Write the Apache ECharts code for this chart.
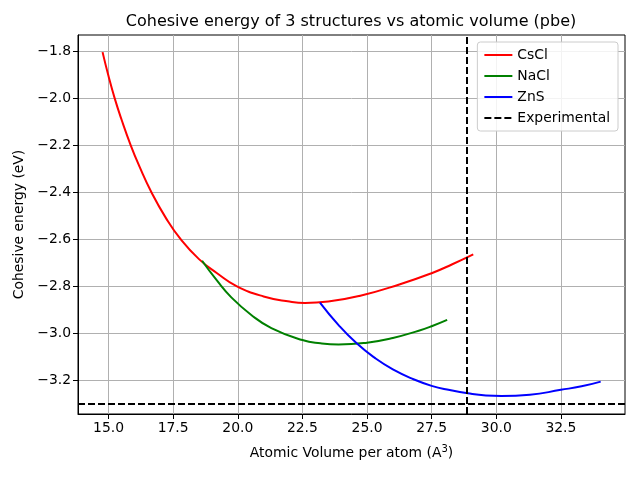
<!DOCTYPE html>
<html>
<head>
<meta charset="utf-8">
<script src="https://cdn.jsdelivr.net/npm/echarts@6/dist/echarts.min.js"></script>
<style>
  html, body { margin: 0; padding: 0; background: #fff; }
  #chart { width: 640px; height: 480px; }
</style>
</head>
<body>
<div id="chart"></div>
<script>
// values
const csclVolume = [14.77, 15.0, 15.24, 15.5, 15.86, 16.2, 16.66, 17.2, 17.79, 18.5, 19.2, 19.95, 21.0, 22.0, 22.6, 23.5, 24.74, 26.25, 27.5, 28.3, 29.11];
const csclEnergy = [-1.803, -1.905, -2.0, -2.089, -2.2, -2.291, -2.4, -2.506, -2.6, -2.685, -2.745, -2.8, -2.844, -2.866, -2.872, -2.866, -2.841, -2.793, -2.745, -2.707, -2.665];

const naclVolume = [18.62, 19.2, 19.76, 20.5, 21.3, 22.5, 23.2, 23.9, 25.0, 26.0, 27.0, 27.5, 28.1];
const naclEnergy = [-2.692, -2.777, -2.849, -2.921, -2.979, -3.03, -3.044, -3.049, -3.041, -3.021, -2.99, -2.971, -2.944];

const znsVolume = [23.18, 23.9, 24.6, 25.3, 26.0, 26.8, 27.5, 28.2, 28.9, 29.6, 30.2, 31.3, 32.5, 33.3, 34.04];
const znsEnergy = [-2.87, -2.966, -3.044, -3.106, -3.155, -3.197, -3.225, -3.243, -3.257, -3.266, -3.268, -3.263, -3.242, -3.227, -3.207];

const expVolume = 28.85;
const expEnergy = -3.298;

const xTicks = [15.0, 17.5, 20.0, 22.5, 25.0, 27.5, 30.0, 32.5];
const yTicks = [-3.2, -3.0, -2.8, -2.6, -2.4, -2.2, -2.0, -1.8];

const font = 'DejaVu Sans';
const pairs = (xs, ys) => xs.map((x, i) => [x, ys[i]]);
const fmt = v => v.toFixed(1).replace('-', '\u2212');

const curve = (name, color, xs, ys) => ({
  name: name,
  type: 'line',
  data: pairs(xs, ys),
  smooth: 0.5,
  symbol: 'none',
  lineStyle: { color: color, width: 2 },
  itemStyle: { color: color },
  z: 3
});

const myChart = echarts.init(document.getElementById('chart'), null, { renderer: 'canvas' });

const option = {
  animation: false,
  backgroundColor: '#fff',
  title: {
    text: 'Cohesive energy of 3 structures vs atomic volume (pbe)',
    left: 351,
    textAlign: 'center',
    top: 14,
    padding: 0,
    textStyle: { fontFamily: font, fontSize: 16, fontWeight: 'normal', color: '#000' }
  },
  legend: {
    orient: 'vertical',
    right: 22,
    top: 42,
    itemWidth: 28,
    itemHeight: 10,
    itemGap: 7,
    padding: [6, 8, 6, 6],
    backgroundColor: 'rgba(255,255,255,0.85)',
    borderColor: '#cccccc',
    borderWidth: 1,
    borderRadius: 3,
    itemStyle: { opacity: 0 },
    textStyle: { fontFamily: font, fontSize: 13.9, color: '#000' },
    data: ['CsCl', 'NaCl', 'ZnS', 'Experimental']
  },
  grid: {
    left: 78, right: 15, top: 35, bottom: 66,
    show: true,
    borderColor: '#000',
    borderWidth: 1,
    backgroundColor: 'transparent'
  },
  xAxis: {
    type: 'value',
    min: 13.82,
    max: 34.98,
    name: 'Atomic Volume per atom (A{sup|3})',
    nameLocation: 'middle',
    nameGap: 30,
    nameTextStyle: {
      fontFamily: font, fontSize: 13.9, color: '#000',
      rich: { sup: { fontFamily: font, fontSize: 10, color: '#000', padding: [0, 0, 8, 0] } }
    },
    axisLine: { lineStyle: { color: '#000', width: 1 } },
    axisTick: { show: true, length: 5, lineStyle: { color: '#000' }, customValues: xTicks },
    axisLabel: { fontFamily: font, fontSize: 13.9, color: '#000', margin: 7, formatter: fmt, customValues: xTicks },
    splitLine: { show: true, lineStyle: { color: '#b0b0b0', width: 1 } }
  },
  yAxis: {
    type: 'value',
    min: -3.345,
    max: -1.73,
    name: 'Cohesive energy (eV)',
    nameLocation: 'middle',
    nameGap: 52,
    nameTextStyle: { fontFamily: font, fontSize: 13.9, color: '#000' },
    axisLine: { show: true, lineStyle: { color: '#000', width: 1 } },
    axisTick: { show: true, length: 5, lineStyle: { color: '#000' }, customValues: yTicks },
    axisLabel: { fontFamily: font, fontSize: 13.9, color: '#000', margin: 7, formatter: fmt, customValues: yTicks },
    splitLine: { show: true, lineStyle: { color: '#b0b0b0', width: 1 } }
  },
  series: [
    curve('CsCl', '#ff0000', csclVolume, csclEnergy),
    curve('NaCl', '#008000', naclVolume, naclEnergy),
    curve('ZnS', '#0000ff', znsVolume, znsEnergy),
    {
      name: 'Experimental',
      type: 'line',
      data: [],
      symbol: 'none',
      lineStyle: { color: '#000', width: 2, type: [7, 3] },
      itemStyle: { color: '#000' },
      markLine: {
        silent: true,
        symbol: 'none',
        label: { show: false },
        lineStyle: { color: '#000', width: 2, type: [7, 3] },
        data: [{ xAxis: expVolume }, { yAxis: expEnergy }]
      },
      z: 4
    }
  ]
};

myChart.setOption(option);
</script>
</body>
</html>
